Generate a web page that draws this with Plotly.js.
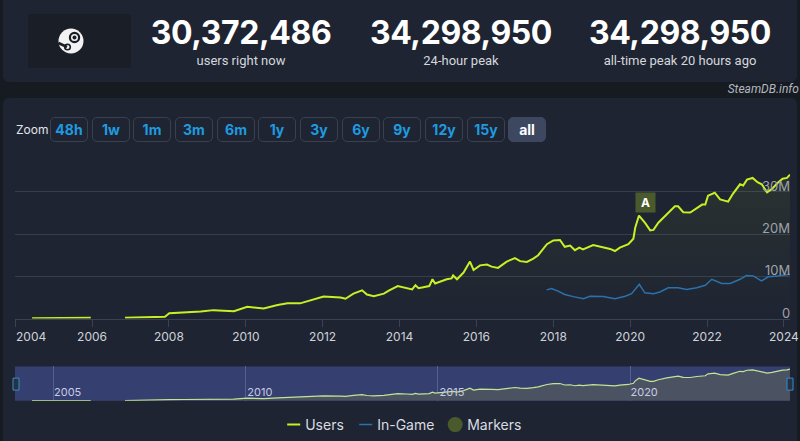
<!DOCTYPE html>
<html>
<head>
<meta charset="utf-8">
<script src="https://cdn.plot.ly/plotly-3.0.1.min.js"></script>
<style>
  html, body { margin:0; padding:0; width:800px; height:441px; overflow:hidden; background:#161a21; font-family: Inter, Roboto, "Noto Sans", sans-serif; }
  .panel { position:absolute; background:#1e2432; border-radius:6px; }
  #head { left:3px; top:-6px; width:794px; height:88px; }
  #chartpanel { left:3px; top:98px; width:794px; height:350px; }
  #logo { position:absolute; left:28px; top:14px; width:103px; height:54px; background:#1a1e27; border-radius:3px; }
  .stat { position:absolute; top:14px; width:220px; text-align:center; color:#fff; }
  .stat .num { font-size:32px; font-weight:700; line-height:38px; letter-spacing:-0.4px; }
  .stat .lab { font-size:13px; color:#d4d7dc; line-height:16px; margin-top:1px; font-family: Roboto, sans-serif; }
  #brand { position:absolute; right:1px; top:82px; font-size:12px; font-style:italic; color:#b3b8c0; font-family: Roboto, sans-serif; }
  #zoomlab { position:absolute; left:16px; top:122px; font-size:12px; color:#e2e5ea; }
  .btn { position:absolute; top:117px; height:25px; width:38px; border:1px solid #39414f; border-radius:5px; box-sizing:border-box;
         color:#1f9be0; font-weight:700; font-size:14px; line-height:23px; text-align:center; }
  .btn.sel { background:#3d4860; color:#fff; border-color:#3d4860; }
  #plot { position:absolute; left:0; top:0; width:800px; height:441px; }
</style>
</head>
<body>
<div class="panel" id="head"></div>
<div id="logo">
  <svg width="103" height="54" viewBox="0 0 103 54">
    <circle cx="43" cy="27" r="12.5" fill="#f2f2f2"/>
    <circle cx="46.5" cy="23.5" r="4.6" fill="none" stroke="#1a1e27" stroke-width="2.2"/>
    <circle cx="46.5" cy="23.5" r="2" fill="#1a1e27"/>
    <path d="M30.5,29 L39,33" stroke="#1a1e27" stroke-width="2.5"/>
    <circle cx="39.5" cy="33" r="2.8" fill="none" stroke="#1a1e27" stroke-width="1.6"/>
  </svg>
</div>
<div class="stat" style="left:131px"><div class="num">30,372,486</div><div class="lab">users right now</div></div>
<div class="stat" style="left:351px"><div class="num">34,298,950</div><div class="lab">24-hour peak</div></div>
<div class="stat" style="left:570px"><div class="num">34,298,950</div><div class="lab">all-time peak 20 hours ago</div></div>
<div id="brand">SteamDB.info</div>
<div class="panel" id="chartpanel"></div>
<div id="zoomlab">Zoom</div>
<div id="btns"></div>
<div id="plot"></div>
<script>
// ---- data ----
const zoomButtons = ['48h','1w','1m','3m','6m','1y','3y','6y','9y','12y','15y','all'];
const zoomLefts   = [50, 92, 133, 175, 217, 258, 300, 342, 383, 425, 467, 508];

const userDates = ['2004-06-10','2004-10-01','2005-03-01','2005-08-01','2005-11-01','2005-12-20','2006-05-01',
 '2006-11-10','2007-04-01','2007-08-10','2007-11-25','2008-01-05','2008-05-20','2008-10-30','2009-03-01','2009-06-01','2009-09-10',
 '2010-01-15','2010-06-20','2010-10-30','2011-02-01','2011-06-01','2011-11-10','2012-01-10','2012-06-20','2012-08-05','2012-10-20',
 '2013-01-10','2013-02-25','2013-05-01','2013-08-05','2013-09-25','2013-12-15','2014-03-10','2014-05-01','2014-06-01','2014-07-01',
 '2014-10-10','2014-11-10','2014-12-05','2015-03-25','2015-05-10','2015-05-25','2015-07-01','2015-09-01','2015-11-01','2015-12-05',
 '2016-02-05','2016-04-10','2016-05-25','2016-07-25','2016-10-15','2017-01-01','2017-02-20','2017-04-25','2017-06-25','2017-08-10',
 '2017-11-01','2018-01-01','2018-03-05','2018-04-20','2018-06-10','2018-07-25','2018-09-05','2018-10-10','2019-01-15','2019-04-10',
 '2019-06-25','2019-08-10','2019-09-25','2019-12-15','2020-02-01','2020-02-18','2020-03-25','2020-05-20','2020-07-10','2020-08-10',
 '2020-09-25','2020-12-15','2021-03-01','2021-04-01','2021-05-20','2021-07-25','2021-09-25','2021-11-15','2021-12-15','2022-01-10',
 '2022-03-15','2022-05-05','2022-07-20','2022-09-05','2022-11-10','2022-12-10','2023-01-15','2023-03-10','2023-04-25','2023-06-05',
 '2023-07-25','2023-09-10','2023-11-01','2023-12-20','2024-01-30','2024-02-28'];
const userValues = [0.10,0.12,0.20,0.22,0.25,0.22,null,
 0.20,0.30,0.40,0.45,1.25,1.40,1.65,2.0,1.9,1.75,
 2.8,2.4,3.2,3.6,3.6,4.8,5.2,5.0,4.7,5.9,
 6.7,5.7,5.3,5.9,6.7,7.7,7.3,6.9,7.9,7.2,
 7.7,9.3,8.3,9.3,9.5,10.2,9.3,10.9,13.5,11.5,
 12.6,12.8,12.3,12.0,13.5,14.3,13.6,13.4,14.2,15.0,
 17.6,18.5,18.6,17.0,17.3,16.2,16.8,16.4,17.4,17.0,
 16.5,16.0,16.8,17.6,18.9,21.5,24.4,22.7,20.9,21.0,
 22.7,24.7,26.6,26.6,25.2,25.1,26.2,27.0,27.0,29.1,
 29.8,28.2,27.7,29.6,31.8,31.5,32.9,33.3,32.3,31.8,
 29.9,30.7,32.1,33.1,33.3,34.1].map(v => v === null ? null : v * 1e6);

const inGameDates = ['2017-10-30','2017-12-15','2018-02-15','2018-04-20','2018-07-10','2018-10-15','2018-12-15','2019-04-20',
 '2019-08-10','2019-11-15','2020-01-15','2020-03-28','2020-05-20','2020-08-10','2020-10-10','2020-12-28','2021-04-01','2021-06-20',
 '2021-09-25','2021-12-15','2022-02-15','2022-05-20','2022-08-10','2022-11-10','2023-01-10','2023-03-15','2023-06-01','2023-08-05',
 '2023-11-05','2023-12-20','2024-02-28'];
const inGameValues = [6.8,7.1,6.5,5.7,5.2,4.7,5.3,5.2,
 4.7,5.3,5.9,8.1,6.1,5.9,6.3,7.3,7.3,6.9,
 7.3,7.9,9.3,8.3,8.3,9.3,10.2,10.1,8.9,9.9,
 10.1,10.2,10.5].map(v => v * 1e6);

const markerDates  = ['2020-03-25'];
const markerValues = [24.4e6];
const markerLabels = ['A'];

const yTickVals = [0, 10e6, 20e6, 30e6, 40e6];
const yTickText = ['0', '10M', '20M', '30M', ''];
const xTickVals = ['2004-01-01','2006-01-01','2008-01-01','2010-01-01','2012-01-01','2014-01-01','2016-01-01','2018-01-01','2020-01-01','2022-01-01','2024-01-01'];
const xTickText = ['2004','2006','2008','2010','2012','2014','2016','2018','2020','2022','2024'];
const navTickVals = ['2005-01-01','2010-01-01','2015-01-01','2020-01-01'];
const navTickText = ['2005','2010','2015','2020'];
const xRange = ['2003-12-31', '2024-02-28'];

// ---- buttons (HTML UI) ----
const btns = document.getElementById('btns');
zoomButtons.forEach((b, i) => {
  const d = document.createElement('div');
  d.className = 'btn' + (b === 'all' ? ' sel' : '');
  d.style.left = zoomLefts[i] + 'px';
  d.textContent = b;
  btns.appendChild(d);
});

// ---- chart ----
const W = 800, H = 441;
const xDom = [15 / W, 790 / W];
const yDom = [1 - 319.3 / H, 1 - 150 / H];
const y2Dom = [1 - 401.7 / H, 1 - 367.3 / H];

const traces = [
  { type:'scatter', mode:'lines', name:'Users', x:userDates, y:userValues, xaxis:'x', yaxis:'y',
    line:{color:'#c8f025', width:2}, connectgaps:false, fill:'tozeroy',
    fillgradient:{type:'vertical', colorscale:[[0,'rgba(200,240,37,0)'],[1,'rgba(200,240,37,0.07)']]},
    hoverinfo:'skip' },
  { type:'scatter', mode:'lines', name:'In-Game', x:inGameDates, y:inGameValues, xaxis:'x', yaxis:'y',
    line:{color:'#2a72ad', width:1.5}, hoverinfo:'skip' },
  { type:'scatter', mode:'markers', name:'Markers', x:[null], y:[null], xaxis:'x', yaxis:'y',
    marker:{color:'#4a5a2d', size:15, symbol:'circle'}, hoverinfo:'skip' },
  { type:'scatter', mode:'lines', name:'nav', x:userDates, y:userValues, xaxis:'x2', yaxis:'y2',
    line:{color:'#c2e593', width:1.2}, fill:'tozeroy', fillcolor:'#4b5363', showlegend:false, hoverinfo:'skip' }
];

const annotations = markerLabels.map((t, i) => ({
  x: markerDates[i], y: markerValues[i], xref:'x', yref:'y', text:'<b>'+t+'</b>', showarrow:false,
  xshift:7, yshift:13, bgcolor:'#4a5a2d', width:15, height:15, borderpad:2,
  font:{color:'#ffffff', size:12, family:'Inter, Roboto, sans-serif'}
}));
// y-axis labels sit just above their gridlines, right-aligned inside the plot
yTickVals.forEach((v, i) => {
  if (!yTickText[i]) return;
  annotations.push({ x: 790 / W, y: v, xref:'paper', yref:'y', text: yTickText[i], showarrow:false,
    xanchor:'right', yanchor:'bottom', xshift:1, yshift:-3, borderpad:0,
    font:{color:'#9ea3ab', size:13} });
});
// first x label is left-aligned at its tick (as the chart keeps it inside the panel)
annotations.push({ x: xTickVals[0], y: 1 - 337 / H, xref:'x', yref:'paper', text: xTickText[0], showarrow:false,
  xanchor:'left', yanchor:'middle', xshift:0, borderpad:0, font:{color:'#cfd3d8', size:12} });
const xTickTextAxis = xTickText.map((t, i) => i === 0 ? '' : t);

const layout = {
  width:W, height:H, margin:{l:0, r:0, t:0, b:0},
  paper_bgcolor:'rgba(0,0,0,0)', plot_bgcolor:'rgba(0,0,0,0)',
  font:{family:'Inter, Roboto, "Noto Sans", sans-serif'},
  showlegend:true,
  legend:{orientation:'h', x:0.504, xanchor:'center', y:1 - 426 / H, yanchor:'middle',
          font:{color:'#d8dbe0', size:14}, itemwidth:30, bgcolor:'rgba(0,0,0,0)'},
  xaxis:{domain:xDom, range:xRange, type:'date', anchor:'y', tickvals:xTickVals, ticktext:xTickTextAxis,
         ticklabeloverflow:'allow', showgrid:false, showline:true, linecolor:'#3a4252', linewidth:1, ticks:'outside', ticklen:7, tickcolor:'#3a4252',
         tickfont:{color:'#cfd3d8', size:12}, zeroline:false, fixedrange:true},
  yaxis:{domain:yDom, range:[0, 40e6], anchor:'x', side:'right', tickvals:yTickVals, showticklabels:false,
         showgrid:true, gridcolor:'#363d4c', gridwidth:1, zeroline:false, showline:false, fixedrange:true},
  xaxis2:{domain:xDom, range:xRange, type:'date', anchor:'y2', tickvals:navTickVals, ticktext:navTickText,
          showgrid:true, gridcolor:'#56608e', gridwidth:1, ticks:'', showline:false, zeroline:false,
          ticklabelposition:'inside', ticklabelshift:14, tickfont:{color:'#c7cbe4', size:11}, fixedrange:true, layer:'above traces'},
  yaxis2:{domain:y2Dom, range:[0, 37e6], anchor:'x2', visible:false, showgrid:false, fixedrange:true},
  shapes:[
    {type:'rect', xref:'x2 domain', yref:'y2 domain', x0:0, x1:1, y0:0, y1:1, fillcolor:'#353f70', line:{width:0}, layer:'below'},
    {type:'rect', xref:'paper', yref:'paper', x0:13/W, x1:19/W, y0:1-391/H, y1:1-379/H, fillcolor:'#2b3140', line:{color:'#2a8fd0', width:1}},
    {type:'rect', xref:'paper', yref:'paper', x0:787/W, x1:793/W, y0:1-391/H, y1:1-379/H, fillcolor:'#2b3140', line:{color:'#2a8fd0', width:1}}
  ],
  annotations: annotations
};

Plotly.newPlot('plot', traces, layout, {staticPlot:true, displayModeBar:false}).then(gd => {
  // compact legend styling: short line swatches, no fill swatch, tighter entries
  gd.querySelectorAll('.legend .legendfill path').forEach(p => p.remove());
  gd.querySelectorAll('.legend .legendlines path').forEach(p => p.setAttribute('d', 'M22,0h13'));
  const items = gd.querySelectorAll('.legend .traces');
  const relX = [0, 72, 162];
  items.forEach((g, i) => {
    const m = /translate\(([-\d.]+)[ ,]+([-\d.]+)\)/.exec(g.getAttribute('transform') || '');
    const yy = m ? m[2] : 0;
    g.setAttribute('transform', `translate(${relX[i] !== undefined ? relX[i] : 0},${yy})`);
  });
  if (items[2]) items[2].querySelectorAll('.legendpoints').forEach(p => p.setAttribute('transform', 'translate(8,0)'));
  const lg = gd.querySelector('.legend');
  if (lg) {
    const m = /translate\(([-\d.]+)[ ,]+([-\d.]+)\)/.exec(lg.getAttribute('transform') || '');
    if (m) lg.setAttribute('transform', `translate(${parseFloat(m[1]) + 5},${m[2]})`);
  }
});
</script>
</body>
</html>
